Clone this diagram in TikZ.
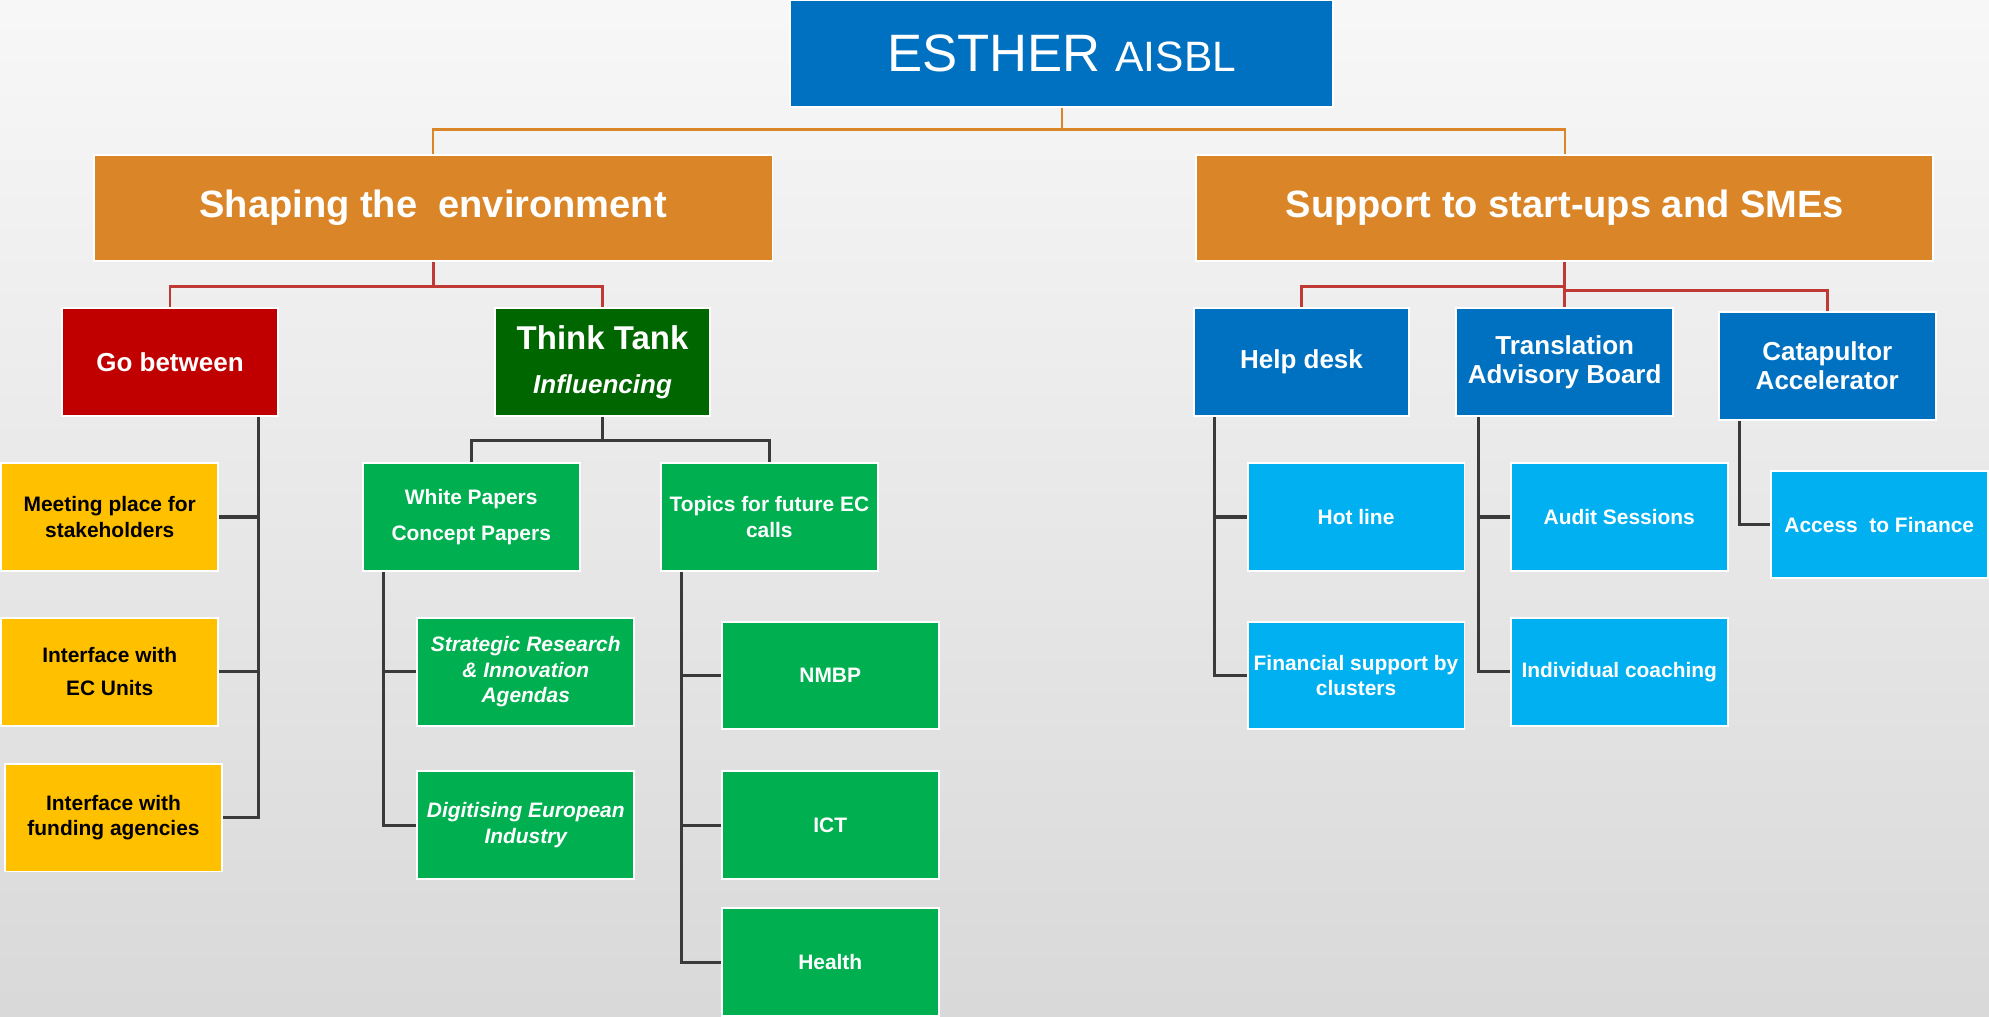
\documentclass[tikz,border=0pt]{standalone}
\usepackage{fontspec}
\setmainfont{Liberation Sans}

\definecolor{esblue}{HTML}{0070C0}
\definecolor{esorange}{HTML}{DA8628}
\definecolor{esred}{HTML}{C00000}
\definecolor{esdkgreen}{HTML}{006600}
\definecolor{esgreen}{HTML}{00B050}
\definecolor{esyellow}{HTML}{FFC000}
\definecolor{eslblue}{HTML}{00B0F0}
\definecolor{linered}{HTML}{BF3A35}
\definecolor{linegray}{HTML}{3A3A3A}

\tikzset{
	box/.style={draw=white, line width=1.5pt, minimum width=171pt, minimum height=85pt,
		inner sep=1pt, align=center, text=white, font=\bfseries\fontsize{16.5}{20}\selectfont},
	headbox/.style={box, fill=esorange, minimum height=84pt, font=\bfseries\fontsize{30}{34}\selectfont},
	midbox/.style={box, minimum width=170pt, font=\bfseries\fontsize{20.5}{23}\selectfont},
	yellowbox/.style={box, fill=esyellow, text=black},
	greenbox/.style={box, fill=esgreen},
	cyanbox/.style={box, fill=eslblue},
	topline/.style={draw=esorange, line width=1.9pt},
	redline/.style={draw=linered, line width=2.1pt},
	grayline/.style={draw=linegray, line width=2.5pt},
}

\begin{document}
\begin{tikzpicture}[x=1pt, y=-1pt]
	% background
	\shade[top color=black!3, bottom color=black!15] (0,0) rectangle (1568,801);
	\useasboundingbox (0,0) rectangle (1568,801);

	% level 0 and 1
	\node[box, fill=esblue, minimum width=428pt, minimum height=84pt, font=\fontsize{41.5}{44}\selectfont]
		(esther) at (837,42) {ESTHER {\fontsize{33.5}{36}\selectfont AISBL}};
	\node[headbox, minimum width=535pt] (shaping) at (341.5,164) {\raisebox{-3pt}{Shaping the\ \ environment}};
	\node[headbox, minimum width=581pt] (support) at (1233.5,164) {\raisebox{-3pt}{Support to start-ups and SMEs}};

	% shaping the environment
	\node[midbox, fill=esred] (gobetween) at (134,285.5) {Go between};
	\node[midbox, fill=esdkgreen] (thinktank) at (475,285.5)
		{{\fontsize{26}{28}\selectfont Think Tank}\\[12pt]\textit{Influencing}};
	\node[yellowbox] (meeting) at (86.5,407.5) {Meeting place for\\stakeholders};
	\node[yellowbox] (ecunits) at (86.5,529.5) {Interface with\\[6pt]EC Units};
	\node[yellowbox] (funding) at (89.5,644.5) {Interface with\\funding agencies};
	\node[greenbox] (white) at (371.5,407.5) {White Papers\\[8pt]Concept Papers};
	\node[greenbox] (topics) at (606.5,407.5) {Topics for future EC\\calls};
	\node[greenbox, font=\bfseries\itshape\fontsize{16.5}{20}\selectfont] (strategic) at (414.5,529.5)
		{Strategic Research\\\& Innovation\\Agendas};
	\node[greenbox, font=\bfseries\itshape\fontsize{16.5}{20}\selectfont] (digitising) at (414.5,650.5)
		{Digitising European\\Industry};
	\node[greenbox] (nmbp) at (654.5,532.5) {NMBP};
	\node[greenbox] (ict) at (654.5,650.5) {ICT};
	\node[greenbox] (health) at (654.5,758.5) {Health};

	% support to start-ups
	\node[midbox, fill=esblue] (helpdesk) at (1026,285.5) {Help desk};
	\node[midbox, fill=esblue, minimum width=171pt] (translation) at (1233.5,285.5) {Translation\\Advisory Board};
	\node[midbox, fill=esblue, minimum width=171pt] (catapultor) at (1440.5,288.5) {Catapultor\\Accelerator};
	\node[cyanbox] (hotline) at (1069,407.5) {Hot line};
	\node[cyanbox] (financial) at (1069,532.5) {Financial support by\\clusters};
	\node[cyanbox] (audit) at (1276.5,407.5) {Audit Sessions};
	\node[cyanbox] (coaching) at (1276.5,529.5) {Individual coaching};
	\node[cyanbox] (access) at (1481.5,413.5) {Access\ \ to Finance};

	% tree connectors
	\coordinate (topbus) at (837,102);
	\coordinate (shapebus) at (341.5,226);
	\coordinate (supbus) at (1233.5,226);
	\coordinate (thinkbus) at (475,347);
	\draw[topline] (esther) -- (topbus) -| (shaping);
	\draw[topline] (topbus) -| (support);
	\draw[redline] (shaping) -- (shapebus) -| (gobetween);
	\draw[redline] (shapebus) -| (thinktank);
	\draw[redline] (support) -- (supbus) -| (helpdesk);
	\draw[redline] (supbus) -- (translation);
	\draw[redline] ([yshift=-3pt]supbus) -| (catapultor);
	\draw[grayline] (thinktank) -- (thinkbus) -| (white);
	\draw[grayline] (thinkbus) -| (topics);

	% side trunks
	\foreach \child in {meeting, ecunits, funding}
		\draw[grayline] ([xshift=-16pt]gobetween.south east) |- (\child);
	\foreach \child in {strategic, digitising}
		\draw[grayline] ([xshift=17pt]white.south west) |- (\child);
	\foreach \child in {nmbp, ict, health}
		\draw[grayline] ([xshift=17pt]topics.south west) |- (\child);
	\foreach \child in {hotline, financial}
		\draw[grayline] ([xshift=17pt]helpdesk.south west) |- (\child);
	\foreach \child in {audit, coaching}
		\draw[grayline] ([xshift=18pt]translation.south west) |- (\child);
	\draw[grayline] ([xshift=17pt]catapultor.south west) |- (access);
\end{tikzpicture}
\end{document}
